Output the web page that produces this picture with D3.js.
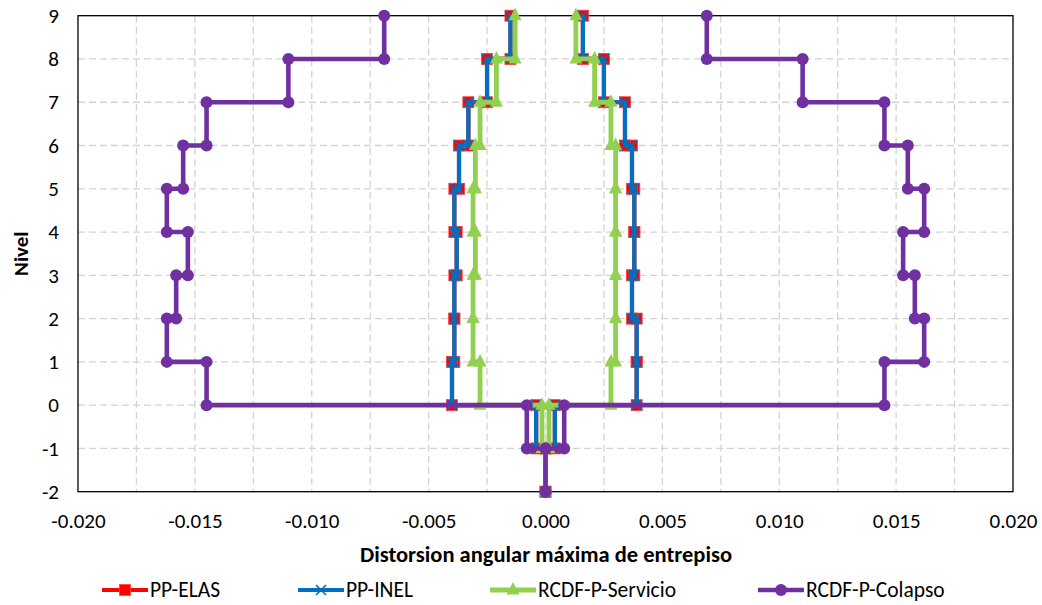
<!DOCTYPE html>
<html>
<head>
<meta charset="utf-8">
<script src="https://cdn.jsdelivr.net/npm/d3@7"></script>
<style>
  html, body { margin: 0; padding: 0; background: #fff; }
  svg { display: block; }
  text { font-family: Carlito, Calibri, Lato, sans-serif; fill: #000; }
</style>
</head>
<body>
<svg id="chart" width="1042" height="605"></svg>
<script>
// ---- data ----
const levels = [9, 8, 7, 6, 5, 4, 3, 2, 1, 0, -1, -2];           // floor levels (top to bottom)
// drift of each story (between levels[k] and levels[k+1]), negative and positive direction
const elasNeg = [-0.0015, -0.0025, -0.0033, -0.0037, -0.0039, -0.0038, -0.0039, -0.0039, -0.0040, -0.0004, 0];
const elasPos = [0.0016, 0.0025, 0.0034, 0.0037, 0.0038, 0.0038, 0.0037, 0.0039, 0.0039, 0.0004, 0];
const inelNeg = [-0.0015, -0.0025, -0.0033, -0.0037, -0.0039, -0.0038, -0.0039, -0.0039, -0.0040, -0.0004, 0];
const inelPos = [0.0016, 0.0025, 0.0034, 0.0037, 0.0038, 0.0038, 0.0037, 0.0039, 0.0039, 0.0004, 0];
const servNeg = [-0.0013, -0.0021, -0.0028, -0.0030, -0.0031, -0.0030, -0.0031, -0.0031, -0.0028, -0.00015, 0];
const servPos = [0.0013, 0.0021, 0.0028, 0.0030, 0.0030, 0.0030, 0.0030, 0.0030, 0.0028, 0.00015, 0];
const colNeg = [-0.0069, -0.0110, -0.0145, -0.0155, -0.0162, -0.0153, -0.0158, -0.0162, -0.0145, -0.0008, 0];
const colPos = [0.0069, 0.0110, 0.0145, 0.0155, 0.0162, 0.0153, 0.0158, 0.0162, 0.0145, 0.0008, 0];
const seriesNames = ["PP-ELAS", "PP-INEL", "RCDF-P-Servicio", "RCDF-P-Colapso"];
const xTicks = [-0.020, -0.015, -0.010, -0.005, 0.000, 0.005, 0.010, 0.015, 0.020];
const yTicks = [-2, -1, 0, 1, 2, 3, 4, 5, 6, 7, 8, 9];
const xTitle = "Distorsion angular máxima de entrepiso";
const yTitle = "Nivel";

// ---- layout ----
const svg = d3.select("#chart");
const L = 78, R = 1013, T = 15.7, B = 491.7;
const x = d3.scaleLinear().domain([-0.02, 0.02]).range([L, R]);
const y = d3.scaleLinear().domain([-2, 9]).range([B, T]);
const fmtX = v => d3.format(".3f")(v).replace("\u2212", "-");
const fmtY = v => String(v);
const FONT = "Carlito, Calibri, Lato, sans-serif";

const colors = ["#FF0000", "#0070C0", "#92D050", "#7030A0"];

// gridlines
const grid = svg.append("g");
d3.range(-0.0175, 0.0176, 0.0025).forEach(v => {
  grid.append("line").attr("x1", x(v)).attr("x2", x(v)).attr("y1", T).attr("y2", B)
    .attr("stroke", "#D3D3D3").attr("stroke-width", 1.3).attr("stroke-dasharray", "7,4");
});
yTicks.filter(v => v > -2 && v < 9).forEach(v => {
  grid.append("line").attr("x1", L).attr("x2", R).attr("y1", y(v)).attr("y2", y(v))
    .attr("stroke", "#D3D3D3").attr("stroke-width", 1.3).attr("stroke-dasharray", "7,4");
});
// plot border
svg.append("rect").attr("x", L).attr("y", T).attr("width", R - L).attr("height", B - T)
  .attr("fill", "none").attr("stroke", "#000").attr("stroke-width", 1.3);

// axes (labels only)
const xAxis = d3.axisBottom(x).tickValues(xTicks).tickFormat(fmtX).tickSize(0).tickPadding(21);
const gx = svg.append("g").attr("transform", `translate(0,${B})`).call(xAxis);
gx.select(".domain").remove();
gx.selectAll("text").attr("font-size", 21).style("font-family", FONT);

const yAxis = d3.axisLeft(y).tickValues(yTicks).tickFormat(fmtY).tickSize(0).tickPadding(19);
const gy = svg.append("g").attr("transform", `translate(${L},0)`).call(yAxis);
gy.select(".domain").remove();
gy.selectAll("text").attr("font-size", 21).style("font-family", FONT);

svg.append("text").attr("x", 546).attr("y", 562).attr("text-anchor", "middle")
  .attr("font-size", 22.5).attr("font-weight", "bold").text(xTitle);
svg.append("text").attr("transform", `translate(28,${(T + B) / 2}) rotate(-90)`)
  .attr("text-anchor", "middle").attr("font-size", 21).attr("font-weight", "bold").text(yTitle);

// ---- series ----
function stairPoints(neg, pos) {
  const pts = [];
  neg.forEach((v, k) => { pts.push([v, levels[k]]); pts.push([v, levels[k + 1]]); });
  for (let k = pos.length - 1; k >= 0; k--) { pts.push([pos[k], levels[k + 1]]); pts.push([pos[k], levels[k]]); }
  return pts;
}
const data = [stairPoints(elasNeg, elasPos), stairPoints(inelNeg, inelPos),
              stairPoints(servNeg, servPos), stairPoints(colNeg, colPos)];
const widths = [4.2, 4.2, 4.8, 4.6];
const line = d3.line().x(d => x(d[0])).y(d => y(d[1]));

function drawMarker(g, i, cx, cy) {
  const c = colors[i];
  if (i === 0) {
    g.append("rect").attr("x", cx - 5.5).attr("y", cy - 5.5).attr("width", 11).attr("height", 11)
      .attr("fill", c).attr("stroke", "#FF4040").attr("stroke-width", 0.8);
  } else if (i === 1) {
    g.append("path").attr("d", `M${cx - 5},${cy - 5}L${cx + 5},${cy + 5}M${cx - 5},${cy + 5}L${cx + 5},${cy - 5}`)
      .attr("stroke", c).attr("stroke-width", 1.6).attr("fill", "none");
  } else if (i === 2) {
    g.append("path").attr("d", `M${cx},${cy - 8}L${cx + 6.5},${cy + 4.5}L${cx - 6.5},${cy + 4.5}Z`)
      .attr("fill", c);
  } else {
    g.append("circle").attr("cx", cx).attr("cy", cy).attr("r", 6).attr("fill", c);
  }
}

data.forEach((pts, i) => {
  const g = svg.append("g");
  g.append("path").datum(pts).attr("d", line).attr("fill", "none")
    .attr("stroke", colors[i]).attr("stroke-width", widths[i]).attr("stroke-linejoin", "round");
  pts.forEach(p => drawMarker(g, i, x(p[0]), y(p[1])));
});

// ---- legend ----
const legX = [102, 298, 490, 758];
const legY = 590;
seriesNames.forEach((name, i) => {
  const g = svg.append("g");
  g.append("line").attr("x1", legX[i]).attr("x2", legX[i] + 46).attr("y1", legY).attr("y2", legY)
    .attr("stroke", colors[i]).attr("stroke-width", widths[i]);
  drawMarker(g, i, legX[i] + 23, legY);
  g.append("text").attr("x", legX[i] + 48).attr("y", legY + 7).attr("font-size", 21.5).text(name);
});
</script>
</body>
</html>
